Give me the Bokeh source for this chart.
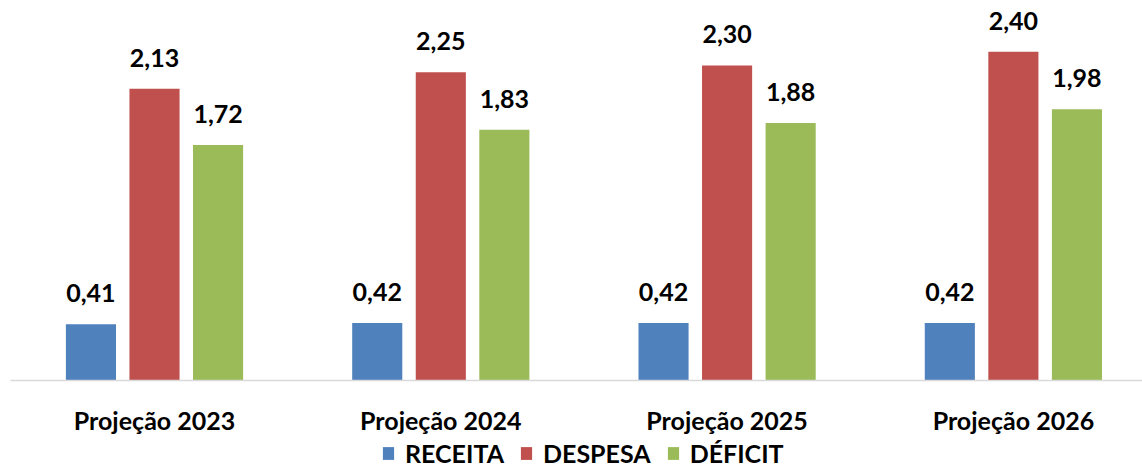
from bokeh.plotting import figure
from bokeh.models import ColumnDataSource, Range1d, FixedTicker, Legend, LegendItem
from bokeh.layouts import column
from bokeh.transform import dodge
from bokeh.core.properties import value
from bokeh.embed import file_html
from bokeh.resources import INLINE

categories = ["Projeção 2023", "Projeção 2024", "Projeção 2025", "Projeção 2026"]
series_names = ["RECEITA", "DESPESA", "DÉFICIT"]
receita = [0.41, 0.42, 0.42, 0.42]
despesa = [2.13, 2.25, 2.30, 2.40]
deficit = [1.72, 1.83, 1.88, 1.98]
colors = ["#4f81bd", "#c0504d", "#9bbb59"]

FONT = "Lato"

def fmt(v):
    return f"{v:.2f}".replace(".", ",")

xs = list(range(len(categories)))
src = ColumnDataSource(dict(
    x=xs,
    receita=receita, despesa=despesa, deficit=deficit,
    receita_t=[fmt(v) for v in receita],
    despesa_t=[fmt(v) for v in despesa],
    deficit_t=[fmt(v) for v in deficit],
))
keys = ["receita", "despesa", "deficit"]

p = figure(width=1142, height=438, output_backend="svg", toolbar_location=None,
           x_range=Range1d(-0.503, 3.451), y_range=Range1d(0, 2.774),
           min_border_left=10, min_border_right=0, min_border_top=0, min_border_bottom=58,
           y_axis_location=None)
p.outline_line_color = None
p.grid.visible = False
p.background_fill_color = "white"
p.border_fill_color = "white"

off = 0.222
bw = 0.175
for key, o, c in zip(keys, [-off, 0, off], colors):
    p.vbar(x=dodge("x", o, range=p.x_range), top=key, width=bw, source=src,
           fill_color=c, line_color=None)
    p.text(x=dodge("x", o, range=p.x_range), y=key, text=key + "_t", source=src,
           text_align="center", text_baseline="alphabetic", y_offset=-31,
           text_font=value(FONT), text_font_style="bold", text_font_size="25px",
           text_color="black")

ax = p.xaxis[0]
ax.ticker = FixedTicker(ticks=xs)
ax.major_label_overrides = {i: c for i, c in enumerate(categories)}
ax.major_tick_line_color = None
ax.minor_tick_line_color = None
ax.major_tick_out = 0
ax.major_tick_in = 0
ax.axis_line_color = "#d9d9d9"
ax.axis_line_width = 1.5
ax.major_label_standoff = 24
ax.major_label_text_font = FONT
ax.major_label_text_font_style = "bold"
ax.major_label_text_font_size = "25px"
ax.major_label_text_color = "black"

# legend strip below the chart (its bars lie outside the strip's visible ranges)
lg = figure(width=1142, height=30, output_backend="svg", toolbar_location=None,
            x_range=Range1d(100, 101), y_range=Range1d(100, 101),
            min_border=0, x_axis_location=None, y_axis_location=None)
lg.outline_line_color = None
lg.grid.visible = False
leg_renderers = [lg.vbar(x="x", top=k, width=bw, source=src, fill_color=c, line_color=None)
                 for k, c in zip(keys, colors)]
legend = Legend(items=[LegendItem(label=n, renderers=[r]) for n, r in zip(series_names, leg_renderers)],
                orientation="horizontal", location=(371, 0),
                glyph_width=14, glyph_height=16, label_standoff=10, spacing=15,
                padding=0, margin=0, border_line_color=None, background_fill_alpha=0,
                label_text_font=FONT, label_text_font_style="bold",
                label_text_font_size="25px", label_text_color="black")
lg.add_layout(legend)

layout = column(p, lg, spacing=0)
open("out.html", "w").write(file_html(layout, INLINE))
